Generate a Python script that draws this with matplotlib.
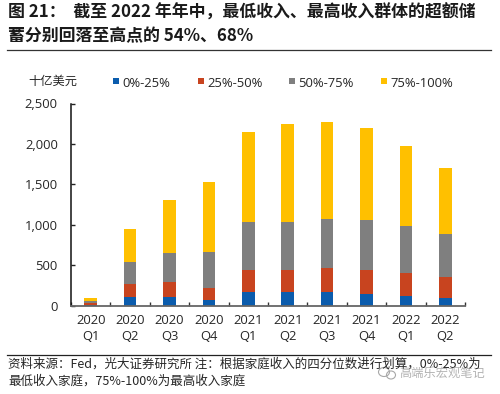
import matplotlib
matplotlib.use("Agg")
import matplotlib.pyplot as plt
from matplotlib.patches import Rectangle, Ellipse

plt.rcParams['font.family'] = ['Noto Sans CJK SC', 'DejaVu Sans']
latin = ['Open Sans', 'Noto Sans CJK SC']

categories = ['2020\nQ1', '2020\nQ2', '2020\nQ3', '2020\nQ4', '2021\nQ1',
              '2021\nQ2', '2021\nQ3', '2021\nQ4', '2022\nQ1', '2022\nQ2']
q1 = [12, 110, 110, 65, 165, 170, 170, 150, 125, 92]
q2 = [22, 160, 180, 160, 275, 275, 290, 290, 280, 265]
q3 = [18, 275, 365, 440, 590, 595, 615, 615, 580, 530]
q4 = [48, 405, 655, 865, 1120, 1210, 1195, 1145, 985, 815]
series = [('0%-25%', q1, '#0B5CAD'), ('25%-50%', q2, '#C8441F'),
          ('50%-75%', q3, '#7F7F7F'), ('75%-100%', q4, '#FFC000')]
yticks = [0, 500, 1000, 1500, 2000, 2500]
W, H = 500, 394
txt = '#262626'

fig = plt.figure(figsize=(W/100, H/100), dpi=100)
ax = fig.add_axes([71/W, 1-305.7/H, (465-71)/W, (305.7-103.5)/H])
x = list(range(len(categories)))
bottom = [0]*len(x)
for name, vals, col in series:
    ax.bar(x, vals, bottom=bottom, width=0.315, color=col, label=name, linewidth=0)
    bottom = [b+v for b, v in zip(bottom, vals)]
ax.set_xlim(-0.5, 9.5)
ax.set_ylim(0, 2500)
ax.set_yticks(yticks)
ax.set_yticklabels([f'{v:,}' for v in yticks], fontsize=9.4, color=txt, family=latin)
ax.set_xticks(x)
ax.set_xticklabels(categories, fontsize=9.4, color=txt, linespacing=1.25, family=latin)
ax.set_xticks([i-0.5 for i in range(11)], minor=True)
ax.tick_params(axis='x', which='major', length=0, pad=6)
ax.tick_params(axis='x', which='minor', direction='in', length=3, width=1, color='#333333')
ax.tick_params(axis='y', direction='in', length=3, width=1, color='#222222', pad=9.5)
for s in ('top', 'right'):
    ax.spines[s].set_visible(False)
ax.spines['left'].set_color('#111111')
ax.spines['left'].set_linewidth(1.1)
ax.spines['bottom'].set_color('#666666')
ax.spines['bottom'].set_linewidth(1.3)

def t(px, py, s, **k):
    fig.text(px/W, 1-py/H, s, va='center', **k)

t(8, 13, '图 21：  截至 2022 年年中，最低收入、最高收入群体的超额储', fontsize=12.2, fontweight='bold', color='#1a1a1a')
t(8, 36, '蓄分别回落至高点的 54%、68%', fontsize=12.2, fontweight='bold', color='#1a1a1a')
fig.add_artist(plt.Line2D([7/W, 491/W], [1-49.7/H, 1-49.7/H], color='#333333', lw=0.9))
t(28, 81, '十亿美元', fontsize=8.8, color=txt)

lx = [113, 198, 289, 381]
for (name, _, col), px in zip(series, lx):
    fig.add_artist(Rectangle((px/W, 1-(84)/H), 6/W, 6/H, color=col, lw=0, transform=fig.transFigure))
    t(px+9, 83.5, name, fontsize=9.4, color=txt, family=latin)

fig.add_artist(plt.Line2D([7/W, 491/W], [1-355/H, 1-355/H], color='#222222', lw=0.9))
t(8, 364.5, '资料来源：Fed，光大证券研究所 注：根据家庭收入的四分位数进行划算，0%-25%为', fontsize=9.0, color=txt)
t(8, 381.5, '最低收入家庭，75%-100%为最高收入家庭', fontsize=9.0, color=txt)

# watermark
t(399, 373, '高端乐宏观笔记', fontsize=8.8, color='#9A9A9A', alpha=0.75)
for cx, cy, w, h in [(384, 372, 11, 9), (391, 375, 9, 8)]:
    fig.add_artist(Ellipse((cx/W, 1-cy/H), w/W, h/H, fill=False, ec='#A8A8A8', lw=0.8,
                           transform=fig.transFigure))
fig.savefig('out.png', dpi=100)
